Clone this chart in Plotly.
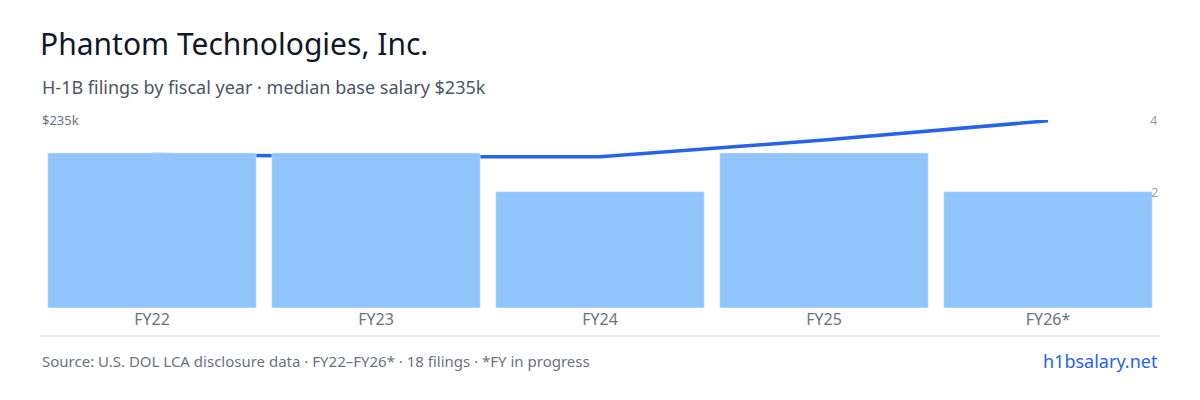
import plotly.graph_objects as go

years = ["FY22", "FY23", "FY24", "FY25", "FY26*"]
filings = [4, 4, 3, 4, 3]
salary_k = [192, 189, 189, 210, 234]
salary_ticks = [235]
salary_tick_text = ["$235k"]
filing_ticks = [2, 4]

fig = go.Figure()

# filings as bars, on a hidden axis starting at zero
fig.add_trace(go.Bar(x=years, y=filings, marker_color="#93c5fd", yaxis="y2",
                     hoverinfo="skip"))
# median salary line
fig.add_trace(go.Scatter(x=years, y=salary_k, mode="lines",
                         line=dict(color="#2563eb", width=3.5), yaxis="y"))

fig.update_layout(
    width=1184, height=384,
    margin=dict(l=32, r=32, t=112, b=84),
    plot_bgcolor="white", paper_bgcolor="white",
    showlegend=False, bargap=0.07,
    font=dict(family="Noto Sans", color="#6b7280"),
    title=dict(text="Phantom Technologies, Inc.", x=0, xref="paper", y=0.905,
               yanchor="middle", font=dict(size=30, color="#111827")),
    xaxis=dict(showgrid=False, tickfont=dict(size=16, color="#6b7280"),
               ticks="", showline=False),
    yaxis=dict(range=[0, 235], visible=False),
    yaxis2=dict(range=[0, 4.85], overlaying="y", visible=False),
    yaxis3=dict(range=[-1.22, 4], overlaying="y", visible=False),
)

# tick labels written as annotations so they are not clipped at the top
for v, t in zip(salary_ticks, salary_tick_text):
    fig.add_annotation(text=t, xref="paper", yref="y", x=0, y=v, xanchor="left",
                       yanchor="middle", showarrow=False,
                       font=dict(size=13, color="#6b7280"))
for v in filing_ticks:
    fig.add_annotation(text=str(v), xref="paper", yref="y3", x=1, y=v,
                       xanchor="right", yanchor="middle", showarrow=False,
                       font=dict(size=13, color="#9ca3af"))

fig.add_shape(type="line", xref="paper", yref="paper", x0=0, x1=1,
              y0=-0.149, y1=-0.149, line=dict(color="#d1d5db", width=1))

fig.add_annotation(text="H-1B filings by fiscal year · median base salary $235k",
                   xref="paper", yref="paper", x=0, y=1.173, xanchor="left",
                   yanchor="middle", showarrow=False,
                   font=dict(size=18, color="#4b5563"))
fig.add_annotation(text="Source: U.S. DOL LCA disclosure data · FY22–FY26* · 18 filings · *FY in progress",
                   xref="paper", yref="paper", x=0, y=-0.282, xanchor="left",
                   yanchor="middle", showarrow=False,
                   font=dict(size=15, color="#6b7280"))
fig.add_annotation(text="h1bsalary.net", xref="paper", yref="paper", x=1, y=-0.282,
                   xanchor="right", yanchor="middle", showarrow=False,
                   font=dict(size=18, color="#2563eb"))

fig.write_html("out.html")
